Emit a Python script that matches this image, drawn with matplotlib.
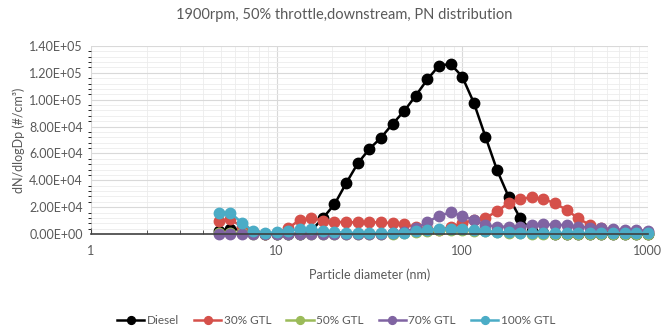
import numpy as np
import matplotlib
matplotlib.use('Agg')
import matplotlib.pyplot as plt
from matplotlib.ticker import FuncFormatter, MultipleLocator, LogLocator, NullFormatter

# particle diameters (nm)
diameters = [4.87, 5.62, 6.49, 7.50, 8.66, 10.0, 11.5, 13.3, 15.4, 17.8,
             20.5, 23.7, 27.4, 31.6, 36.5, 42.2, 48.7, 56.2, 64.9, 75.0,
             86.6, 100, 115.5, 133.4, 154.0, 177.8, 205.4, 237.2, 273.9, 316.2,
             365.2, 421.7, 487, 562, 649, 750, 866, 1000]

diesel = [2000, 4000, 3500, 1000, 0, 0, 0, 0, 2500, 12000,
          22100, 37800, 52700, 63300, 71700, 82000, 91600, 103000, 115100, 125400,
          126600, 117200, 97800, 72500, 47700, 27800, 11700, 2000, 500, 0,
          0, 0, 0, 0, 0, 0, 0, 0]
gtl30 = [9500, 11000, 5500, 1500, 0, 500, 4200, 10400, 11900, 10000,
         9200, 8700, 8700, 8700, 8700, 8000, 7200, 5400, 3500, 3000,
         5000, 8000, 10400, 11700, 17100, 22900, 26100, 27300, 26100, 22900,
         17900, 11700, 6700, 4200, 3200, 2500, 2000, 1500]
gtl50 = [500, 1000, 800, 300, 200, 200, 200, 200, 200, 200,
         200, 200, 200, 200, 200, 300, 800, 1500, 2500, 3000,
         3000, 3000, 2500, 2000, 1500, 1000, 500, 300, 300, 300,
         300, 300, 300, 300, 300, 300, 300, 300]
gtl70 = [0, 0, 0, 0, 0, 0, 0, 0, 0, 0,
         0, 0, 0, 0, 200, 500, 1700, 4200, 8700, 13600,
         16100, 13600, 10400, 6700, 5500, 5400, 5400, 6700, 7200, 6700,
         6700, 5400, 4800, 4200, 3700, 3000, 2800, 2500]
gtl100 = [15400, 15900, 8500, 2000, 800, 1200, 2500, 3500, 3500, 2500,
          1500, 1000, 800, 800, 800, 800, 1000, 2000, 3000, 3500,
          4000, 3500, 3000, 2000, 1500, 1200, 1000, 800, 800, 800,
          800, 800, 800, 800, 800, 800, 800, 800]

series = [('Diesel', diesel, '#000000'),
          ('30% GTL', gtl30, '#d5504a'),
          ('50% GTL', gtl50, '#9bbb59'),
          ('70% GTL', gtl70, '#8064a2'),
          ('100% GTL', gtl100, '#4bacc6')]

plt.rcParams['font.family'] = ['Lato', 'DejaVu Sans']
txt = '#595959'

fig = plt.figure(figsize=(6.61, 3.33), dpi=100)
ax = fig.add_axes([0.1377, 0.2973, 0.8423, 0.5646])

for name, vals, col in series:
    ax.plot(diameters, vals, color=col, lw=1.8, marker='o', markersize=7.5,
            label=name, clip_on=False)

ax.set_xscale('log')
ax.set_xlim(1, 1000)
ax.set_ylim(0, 140000)
ax.yaxis.set_major_locator(MultipleLocator(20000))
ax.yaxis.set_minor_locator(MultipleLocator(4000))
ax.yaxis.set_major_formatter(FuncFormatter(lambda v, p: f'{v:.2E}'))
ax.xaxis.set_major_formatter(FuncFormatter(lambda v, p: f'{v:g}'))
ax.xaxis.set_minor_locator(LogLocator(base=10, subs=np.arange(2, 10)))
ax.xaxis.set_minor_formatter(NullFormatter())

ax.grid(which='major', color='#d9d9d9', lw=0.8)
ax.grid(which='minor', color='#ececec', lw=0.6)
ax.set_axisbelow(True)

for s in ['top', 'right', 'left']:
    ax.spines[s].set_visible(False)
ax.spines['bottom'].set_color('#404040')
ax.spines['bottom'].set_linewidth(1.2)

ax.tick_params(axis='y', length=0, labelsize=9, labelcolor=txt, pad=6)
ax.tick_params(axis='x', which='major', length=4, direction='in', labelsize=9,
               labelcolor=txt, pad=8, color='#404040')
ax.tick_params(axis='x', which='minor', length=3, direction='in', color='#404040')

ax.set_xlabel('Particle diameter (nm)', fontsize=9, color=txt, labelpad=8)
ax.set_ylabel('dN/dlogDp (#/cm³)', fontsize=9, color=txt, labelpad=3)
fig.suptitle('1900rpm, 50% throttle,downstream, PN distribution', x=0.52, y=0.975,
             fontsize=10.5, color=txt)

ax.legend(loc='center', bbox_to_anchor=(0.44, -0.46), ncol=5, frameon=False,
          fontsize=8.5, labelcolor=txt, handlelength=2.3, columnspacing=1.3,
          handletextpad=0.2, markerscale=0.75)

fig.savefig('out.png', dpi=100)
